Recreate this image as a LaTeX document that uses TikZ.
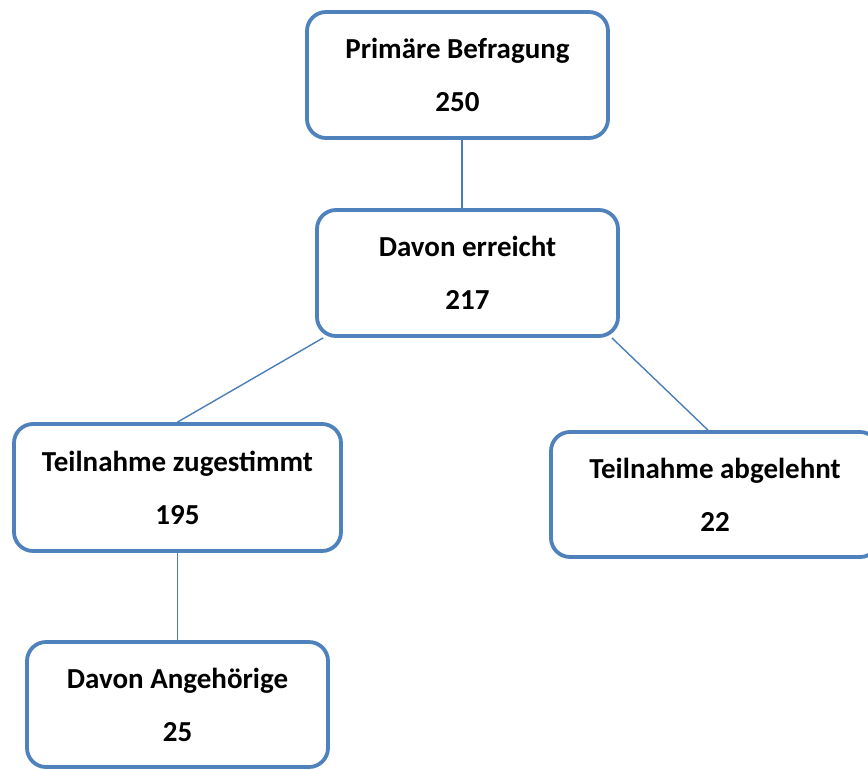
\documentclass[tikz,border=0pt]{standalone}
\usepackage{fontspec}
\setmainfont{Carlito}
\usetikzlibrary{positioning, calc}
\definecolor{boxblue}{HTML}{4F81BD}
\definecolor{lineblue}{HTML}{4A7EBB}

\begin{document}
\begin{tikzpicture}[x=1pt, y=-1pt,
    stufe/.style={draw=boxblue, line width=3.8pt, rounded corners=19pt, fill=white,
      minimum width=301pt, minimum height=126pt, inner sep=0pt, align=center,
      font=\fontsize{29}{53}\selectfont\bfseries},
    verbindung/.style={draw=lineblue, line width=1.4pt}]
  \clip (0,0) rectangle (868,769);
  \useasboundingbox (0,0) rectangle (868,769);
  % Stufen der Befragung
  \node[stufe] (befragung) at (457.5,75) {Primäre Befragung\\250};
  \node[stufe] (erreicht) at (467.5,273) {Davon erreicht\\217};
  \node[stufe, minimum width=327pt, minimum height=127pt] (zugestimmt) at (177.5,487.5) {Teilnahme zugestimmt\\195};
  \node[stufe, minimum width=328pt, minimum height=125pt] (abgelehnt) at (715,494.5) {Teilnahme abgelehnt\\22};
  \node[stufe, minimum height=125pt] (angehoerige) at (177.5,704.5) {Davon Angehörige\\25};
  % Verbindungslinien
  \draw[verbindung] ([xshift=4.5pt]befragung.south) -- ([xshift=4.5pt]befragung.south |- erreicht.north);
  \draw[verbindung] ([xshift=8pt]erreicht.south west) -- (zugestimmt.north);
  \draw[verbindung] ([xshift=-8pt]erreicht.south east) -- ([xshift=-7pt]abgelehnt.north);
  \draw[verbindung] (zugestimmt.south) -- (angehoerige.north);
\end{tikzpicture}
\end{document}
